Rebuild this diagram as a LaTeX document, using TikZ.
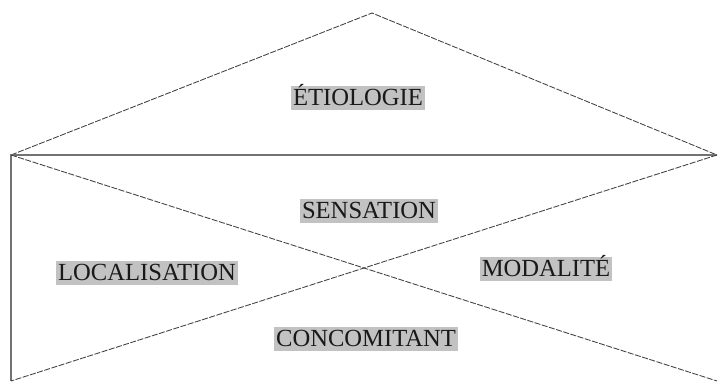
\documentclass[tikz,border=0pt]{standalone}
\usepackage{fontspec}
\setmainfont{Liberation Serif}
\usepackage{tikz}
\usetikzlibrary{positioning}

\begin{document}
\begin{tikzpicture}[
    x=0.035cm, y=-0.035cm,
    lbl/.style={rectangle, fill=black!24, inner xsep=2pt, inner ysep=3pt, text=black!90,
                font=\fontsize{24.5}{28}\selectfont, text height=16.5pt, text depth=1pt},
    roof/.style={black!75, line width=0.85pt, dash pattern=on 6pt off 1.5pt},
    wall/.style={black!55, line width=1.5pt}
]
\useasboundingbox (0,0) rectangle (722,383);

\coordinate (top) at (372,13);
\coordinate (tl)  at (11,155);
\coordinate (tr)  at (717,155);
\coordinate (bl)  at (11,381);
\coordinate (br)  at (717,381);

\draw[roof] (tl) -- (top) -- (tr);
\draw[wall] (tr) -- (tl) -- (bl);
\draw[roof] (tl) -- (br);
\draw[roof] (tr) -- (bl);

\node[lbl] (etio) at (358,98)  {ÉTIOLOGIE};
\node[lbl] (sens) at (369,211) {SENSATION};
\node[lbl] (loca) at (147,273) {LOCALISATION};
\node[lbl] (moda) at (546,269) {MODALITÉ};
\node[lbl] (conc) at (366,339) {CONCOMITANT};
\end{tikzpicture}
\end{document}
